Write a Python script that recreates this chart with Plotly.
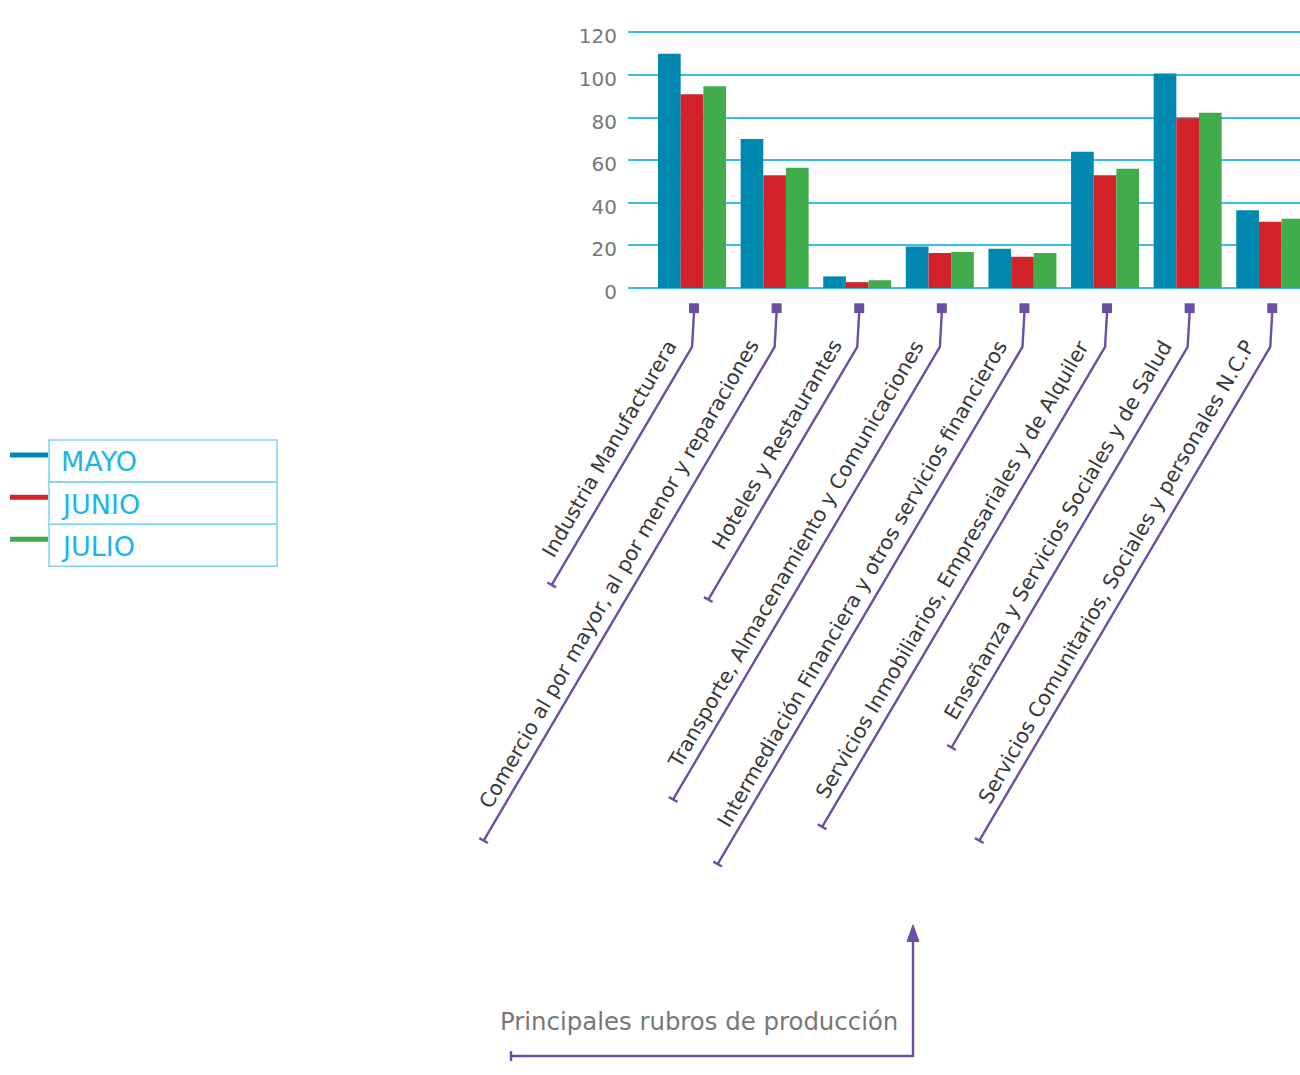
import math
import plotly.graph_objects as go

# ---------------- data ----------------
categories = [
    "Industria Manufacturera",
    "Comercio al por mayor, al por menor y reparaciones",
    "Hoteles y Restaurantes",
    "Transporte, Almacenamiento y Comunicaciones",
    "Intermediación Financiera y otros servicios financieros",
    "Servicios Inmobiliarios, Empresariales y de Alquiler",
    "Enseñanza y Servicios Sociales y de Salud",
    "Servicios Comunitarios, Sociales y personales N.C.P",
]
mayo = [110, 70, 5.5, 19.5, 18.5, 64, 100.7, 36.5]
junio = [91, 53, 2.8, 16.5, 14.7, 53, 79.7, 31.2]
julio = [94.8, 56.5, 3.7, 17, 16.5, 56, 82.3, 32.6]
series_names = ["MAYO", "JUNIO", "JULIO"]
y_ticks = [0, 20, 40, 60, 80, 100, 120]
axis_title = "Principales rubros de producción"

# ---------------- style ----------------
W, H = 1300, 1075
COLORS = ["#0088b0", "#d2232b", "#41ad4a"]
PURPLE = "#6b4fa3"
GRID = "#3bbde9"
PLOT_L, PLOT_R = 628, 1300
Y0_PX, Y120_PX = 288, 27          # pixel rows of values 0 and 120
YR = [0, 121]
PX_PER_UNIT = (Y0_PX - Y120_PX) / 120.0
PLOT_B = Y0_PX - (YR[0] * PX_PER_UNIT)
PLOT_T = Y0_PX - YR[1] * PX_PER_UNIT
XR = [-0.775, 7.36]
LEADER_DY = [243, 504, 258, 462, 528, 490, 409, 504]  # layout: length of leader lines
BEND_Y = 348
SQ_Y = 308.5
LABEL_FONT = "DejaVu Sans"


def xpx(i):
    return PLOT_L + (i - XR[0]) / (XR[1] - XR[0]) * (PLOT_R - PLOT_L)


def px(x):
    return x / W


def py(y):
    return 1 - y / H


fig = go.Figure()
for name, vals, col in zip(series_names, [mayo, junio, julio], COLORS):
    fig.add_trace(go.Bar(
        x=list(range(len(categories))), y=vals, name=name,
        marker=dict(color=col, line=dict(width=0)),
        hovertext=categories,
    ))

shapes = []
annotations = []

# leader lines + labels
t30 = math.tan(math.radians(30))
for i, lab in enumerate(categories):
    cx = xpx(i)
    shapes.append(dict(type="rect", xref="paper", yref="paper",
                       x0=px(cx + 2 - 5), x1=px(cx + 2 + 5),
                       y0=py(SQ_Y - 5), y1=py(SQ_Y + 5),
                       fillcolor=PURPLE, line=dict(width=0)))
    dy = LEADER_DY[i]
    ex, ey = cx - dy * t30, BEND_Y + dy
    path = "M {} {} L {} {} L {} {}".format(
        px(cx + 2), py(SQ_Y + 4), px(cx), py(BEND_Y), px(ex), py(ey))
    shapes.append(dict(type="path", xref="paper", yref="paper", path=path,
                       line=dict(color=PURPLE, width=2.4)))
    tx, ty = 0.866 * 5, 0.5 * 5
    shapes.append(dict(type="line", xref="paper", yref="paper",
                       x0=px(ex - tx), y0=py(ey - ty), x1=px(ex + tx), y1=py(ey + ty),
                       line=dict(color=PURPLE, width=2.4)))
    annotations.append(dict(
        text=lab, xref="paper", yref="paper",
        x=px(cx - 8), y=py(334), xanchor="right", yanchor="top",
        textangle=-60, showarrow=False,
        font=dict(family=LABEL_FONT, size=20.5, color="#383838"),
    ))

# legend box
LEG_L, LEG_R = 49, 277
rows = [(443, 486), (486, 529), (529, 572)]
for (t, b), name, col in zip(rows, series_names, COLORS):
    shapes.append(dict(type="rect", xref="paper", yref="paper",
                       x0=px(LEG_L), x1=px(LEG_R), y0=py(b), y1=py(t),
                       line=dict(color="#7fd3f3", width=1.5)))
    ym = (t + b) / 2
    shapes.append(dict(type="line", xref="paper", yref="paper",
                       x0=px(10), x1=px(48), y0=py(ym - 6), y1=py(ym - 6),
                       line=dict(color=col, width=5)))
    annotations.append(dict(text=name, xref="paper", yref="paper",
                            x=px(59), y=py(ym + 1), xanchor="left", yanchor="middle",
                            showarrow=False,
                            font=dict(family=LABEL_FONT, size=27, color="#1cb5ea")))

# bottom axis title with bracket arrow
shapes.append(dict(type="path", xref="paper", yref="paper",
                   path="M {} {} L {} {} L {} {}".format(px(511), py(1072), px(913), py(1072), px(913), py(952)),
                   line=dict(color=PURPLE, width=2.4)))
shapes.append(dict(type="line", xref="paper", yref="paper",
                   x0=px(511), x1=px(511), y0=py(1067), y1=py(1077),
                   line=dict(color=PURPLE, width=2.4)))
shapes.append(dict(type="path", xref="paper", yref="paper",
                   path="M {} {} L {} {} L {} {} Z".format(px(907), py(955), px(913), py(938), px(919), py(955)),
                   fillcolor=PURPLE, line=dict(color=PURPLE, width=1)))
annotations.append(dict(text=axis_title, xref="paper", yref="paper",
                        x=px(498), y=py(1037), xanchor="left", yanchor="middle",
                        showarrow=False,
                        font=dict(family=LABEL_FONT, size=24.4, color="#777777")))

fig.update_layout(
    width=W, height=H,
    margin=dict(l=0, r=0, t=0, b=0),
    paper_bgcolor="white", plot_bgcolor="white",
    barmode="group", bargap=0.177, bargroupgap=0,
    showlegend=False,
    shapes=shapes, annotations=annotations,
    xaxis=dict(domain=[px(PLOT_L), 1], range=XR, showticklabels=False,
               showgrid=False, zeroline=False, showline=False, ticks=""),
    yaxis=dict(domain=[py(PLOT_B), py(PLOT_T)], range=YR,
               tickvals=y_ticks, ticktext=[str(v) for v in y_ticks],
               showgrid=True, gridcolor=GRID, gridwidth=1.5,
               zeroline=True, zerolinecolor=GRID, zerolinewidth=1.5,
               showline=False, ticks="", ticklabelstandoff=10, ticklabelshift=4,
               tickfont=dict(family=LABEL_FONT, size=20, color="#777777")),
    font=dict(family=LABEL_FONT),
)

fig.write_html(
    "out.html",
    config={"displayModeBar": False},
    post_script="document.body.style.margin='0';"
                "document.documentElement.style.overflow='hidden';",
)
